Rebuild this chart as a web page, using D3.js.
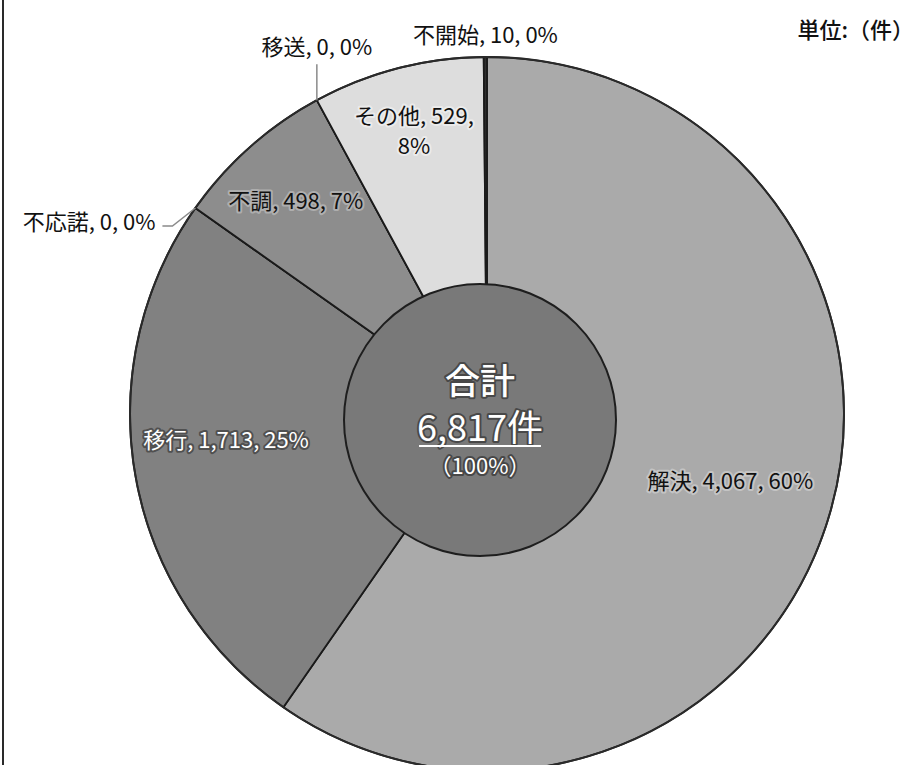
<!DOCTYPE html>
<html>
<head>
<meta charset="utf-8">
<script src="https://cdn.jsdelivr.net/npm/d3@7/dist/d3.min.js"></script>
<style>
  body { margin: 0; background: #fff; }
  svg { display: block; font-family: "Noto Sans CJK JP", "Noto Sans", sans-serif; }
</style>
</head>
<body>
<svg id="chart" width="920" height="765"></svg>
<script>
// Case outcomes (件)
const categories = ["解決", "移行", "不応諾", "不調", "移送", "その他", "不開始"];
const counts     = [4067, 1713, 0, 498, 0, 529, 10];
const unitLabel    = "単位:（件）";
const totalCaption = "合計";
const totalUnit    = "件";
const totalShare   = "（100%）";

const W = 920, H = 765;
const cx = 487, cy = 414, R = 357;

// slice fills, keyed by category
const fills = {
  "解決": "#aaaaaa", "移行": "#818181", "不応諾": "#8a8a8a", "不調": "#8d8d8d",
  "移送": "#c8c8c8", "その他": "#dddddd", "不開始": "#2e2e2e"
};

// label placement: inside slices at a given radius, or outside with a leader
const labelLayout = {
  "解決":   { mode: "in", r: 255, dy: -9,  color: "#111", halo: "#d0d0d0" },
  "移行":   { mode: "in", r: 265, dy: -20, color: "#fff", halo: "#3a3a3a" },
  "不調":   { mode: "in", r: 288, dy: 2,   color: "#111", halo: "#bdbdbd" },
  "その他": { mode: "in", r: 292, dy: 0,   color: "#111", halo: "#f2f2f2", wrap: true },
  "不開始": { mode: "out", dx: 0,   dy: -14, anchor: "middle", leader: null },
  "移送":   { mode: "out", dx: 0,   dy: -45, anchor: "middle", leader: [[0, -36]] },
  "不応諾": { mode: "out", dx: -40, dy: 22,  anchor: "end",    leader: [[-23, 18], [-33, 18]] }
};

const data = categories.map((c, i) => ({ category: c, count: counts[i] }));
const total = d3.sum(counts);
const fmt = d3.format(",");
const pct = v => Math.round(v / total * 100) + "%";

const svg = d3.select("#chart");

// frame edge on the left
svg.append("line")
  .attr("x1", 3).attr("x2", 3).attr("y1", 0).attr("y2", H)
  .attr("stroke", "#2a2a2a").attr("stroke-width", 2);

const g = svg.append("g").attr("transform", `translate(${cx},${cy})`);

const pie = d3.pie().sort(null).value(d => d.count)
  .startAngle(0).endAngle(2 * Math.PI);
const arcs = pie(data);
const arc = d3.arc().innerRadius(0).outerRadius(R);

g.selectAll("path.slice")
  .data(arcs)
  .join("path")
  .attr("class", "slice")
  .attr("d", arc)
  .attr("fill", d => fills[d.data.category])
  .attr("stroke", "#1a1a1a")
  .attr("stroke-width", 1.8)
  .attr("stroke-linejoin", "round");

// outer rim
g.append("circle").attr("r", R).attr("fill", "none")
  .attr("stroke", "#2a2a2a").attr("stroke-width", 2);

const fs = 22;

function addText(sel, x, y, lines, opts) {
  const t = sel.append("text")
    .attr("x", x).attr("y", y)
    .attr("text-anchor", opts.anchor || "middle")
    .attr("font-size", opts.size || fs)
    .attr("fill", opts.color || "#111")
    .attr("stroke", opts.halo || "none")
    .attr("stroke-width", opts.halo ? 4 : 0)
    .attr("stroke-opacity", 0.7)
    .attr("stroke-linejoin", "round")
    .attr("paint-order", "stroke");
  lines.forEach((s, i) => {
    t.append("tspan").attr("x", x).attr("dy", i === 0 ? 0 : (opts.lh || 30)).text(s);
  });
  return t;
}

arcs.forEach(a => {
  const c = a.data.category;
  const L = labelLayout[c];
  const full = `${c}, ${fmt(a.data.count)}, ${pct(a.data.count)}`;
  if (L.mode === "in") {
    const la = d3.arc().innerRadius(L.r).outerRadius(L.r);
    const [x, y] = la.centroid(a);
    const lines = L.wrap
      ? [`${c}, ${fmt(a.data.count)},`, pct(a.data.count)]
      : [full];
    const y0 = y + 8 + L.dy - (lines.length - 1) * 15;
    addText(g, x, y0, lines, { color: L.color, halo: L.halo });
  } else {
    const edge = d3.arc().innerRadius(R).outerRadius(R);
    const [px, py] = edge.centroid(a);
    if (L.leader) {
      const pts = [[px, py]].concat(L.leader.map(([dx, dy]) => [px + dx, py + dy]));
      g.append("path")
        .attr("d", d3.line()(pts))
        .attr("fill", "none")
        .attr("stroke", "#8a8a8a")
        .attr("stroke-width", 1.5);
    }
    addText(g, px + L.dx, py + L.dy, [full], { anchor: L.anchor, color: "#111" });
  }
});

// total badge in the middle
const badge = svg.append("g").attr("transform", `translate(${cx - 7},${cy + 6})`);
badge.append("circle").attr("r", 136)
  .attr("fill", "#797979")
  .attr("stroke", "#1e1e1e").attr("stroke-width", 2);

// three stacked lines in one text block
const totalText = badge.append("text")
  .attr("text-anchor", "middle")
  .attr("fill", "#fff")
  .attr("stroke", "#333").attr("stroke-width", 4).attr("stroke-opacity", 0.7)
  .attr("stroke-linejoin", "round").attr("paint-order", "stroke");
totalText.append("tspan").attr("x", 0).attr("y", -26)
  .attr("font-size", 35).attr("font-weight", 500).text(totalCaption);
const totLine = totalText.append("tspan").attr("x", 0).attr("y", 21)
  .attr("font-size", 36).text(fmt(total) + totalUnit);
totalText.append("tspan").attr("x", 0).attr("y", 54)
  .attr("font-size", 22).text(totalShare);

// underline beneath the total
const tl = totLine.node().getComputedTextLength();
badge.append("line")
  .attr("x1", -tl / 2 + 2).attr("x2", tl / 2 - 2)
  .attr("y1", 26).attr("y2", 26)
  .attr("stroke", "#fff").attr("stroke-width", 2);

// unit note, right-aligned to the top corner
svg.append("text")
  .attr("x", 914).attr("y", 38)
  .attr("text-anchor", "end")
  .attr("font-size", 22)
  .attr("font-weight", 500)
  .attr("fill", "#111")
  .text(unitLabel);
</script>
</body>
</html>
